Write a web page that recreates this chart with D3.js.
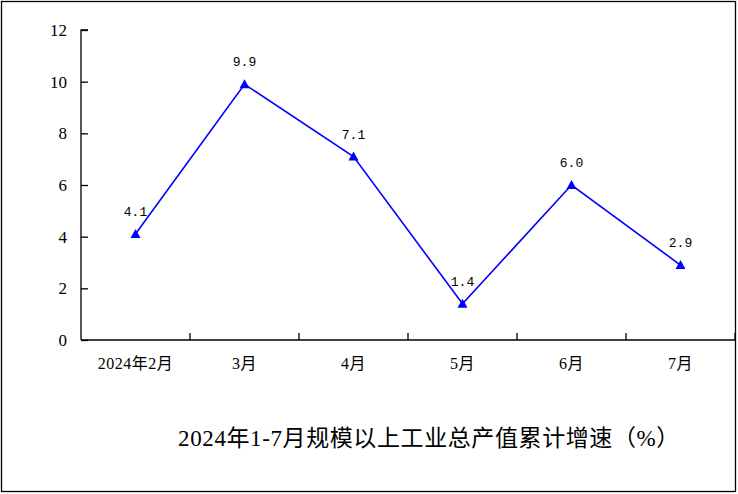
<!DOCTYPE html>
<html>
<head>
<meta charset="utf-8">
<script src="https://cdn.jsdelivr.net/npm/d3@7"></script>
<style>
  body { margin: 0; background: #fff; }
  svg { display: block; }
</style>
</head>
<body>
<script>
const months = ["2024年2月", "3月", "4月", "5月", "6月", "7月"];
const growth = [4.1, 9.9, 7.1, 1.4, 6.0, 2.9];
const yTicks = [0, 2, 4, 6, 8, 10, 12];
const title = "2024年1-7月规模以上工业总产值累计增速（%）";

const W = 738, H = 494;
const plot = { left: 81, right: 735, top: 30, bottom: 340 };
const serif = "'Liberation Serif', 'Noto Sans CJK SC', serif";

const svg = d3.select("body").append("svg")
  .attr("width", W)
  .attr("height", H);

// outer frame
svg.append("rect")
  .attr("x", 1.5).attr("y", 1.5)
  .attr("width", 734).attr("height", 490)
  .attr("fill", "none")
  .attr("stroke", "#000")
  .attr("stroke-width", 1.3);

const x = d3.scaleBand()
  .domain(months)
  .range([plot.left, plot.right]);

const y = d3.scaleLinear()
  .domain([0, 12])
  .range([plot.bottom, plot.top]);

// y axis, ticks pointing inward
const yAxis = svg.append("g")
  .attr("transform", `translate(${plot.left},0)`)
  .call(d3.axisRight(y).tickValues(yTicks).tickSize(7).tickFormat(""));
yAxis.select(".domain").attr("d", `M7,${plot.top}H0V${plot.bottom}`);
yAxis.selectAll("line, path").attr("stroke", "#000").attr("stroke-width", 1.3);

svg.append("g").selectAll("text")
  .data(yTicks)
  .join("text")
  .attr("x", plot.left - 14)
  .attr("y", d => y(d))
  .attr("dy", "0.35em")
  .attr("text-anchor", "end")
  .attr("font-family", serif)
  .attr("font-size", 17)
  .text(d => d);

// x axis with ticks at band boundaries, pointing up
const bounds = months.map(m => x(m)).concat([plot.right]);
svg.append("line")
  .attr("x1", plot.left).attr("x2", plot.right)
  .attr("y1", plot.bottom).attr("y2", plot.bottom)
  .attr("stroke", "#000").attr("stroke-width", 1.3);
svg.append("g").selectAll("line")
  .data(bounds.slice(1))
  .join("line")
  .attr("x1", d => d).attr("x2", d => d)
  .attr("y1", plot.bottom).attr("y2", plot.bottom - 7)
  .attr("stroke", "#000").attr("stroke-width", 1.3);

svg.append("g").selectAll("text")
  .data(months)
  .join("text")
  .attr("x", d => x(d) + x.bandwidth() / 2)
  .attr("y", plot.bottom + 29)
  .attr("text-anchor", "middle")
  .attr("font-family", serif)
  .attr("font-size", 16)
  .attr("letter-spacing", 0.5)
  .text(d => d);

// line
const pts = months.map((m, i) => ({ m, v: growth[i] }));
const line = d3.line()
  .x(d => x(d.m) + x.bandwidth() / 2)
  .y(d => y(d.v));

svg.append("path")
  .attr("d", line(pts))
  .attr("fill", "none")
  .attr("stroke", "#0000ff")
  .attr("stroke-width", 1.6);

svg.append("g").selectAll("path")
  .data(pts)
  .join("path")
  .attr("transform", d => `translate(${x(d.m) + x.bandwidth() / 2},${y(d.v)})`)
  .attr("d", "M0,-5L5,4H-5Z")
  .attr("fill", "#0000ff");

svg.append("g").selectAll("text")
  .data(pts)
  .join("text")
  .attr("x", d => x(d.m) + x.bandwidth() / 2)
  .attr("y", d => y(d.v) - 18)
  .attr("text-anchor", "middle")
  .attr("font-family", "'Liberation Mono', 'DejaVu Sans Mono', monospace")
  .attr("font-size", 13)
  .text(d => d.v.toFixed(1));

svg.append("text")
  .attr("x", 429)
  .attr("y", 446)
  .attr("text-anchor", "middle")
  .attr("font-family", serif)
  .attr("font-size", 23)
  .attr("letter-spacing", 0.6)
  .text(title);
</script>
</body>
</html>
